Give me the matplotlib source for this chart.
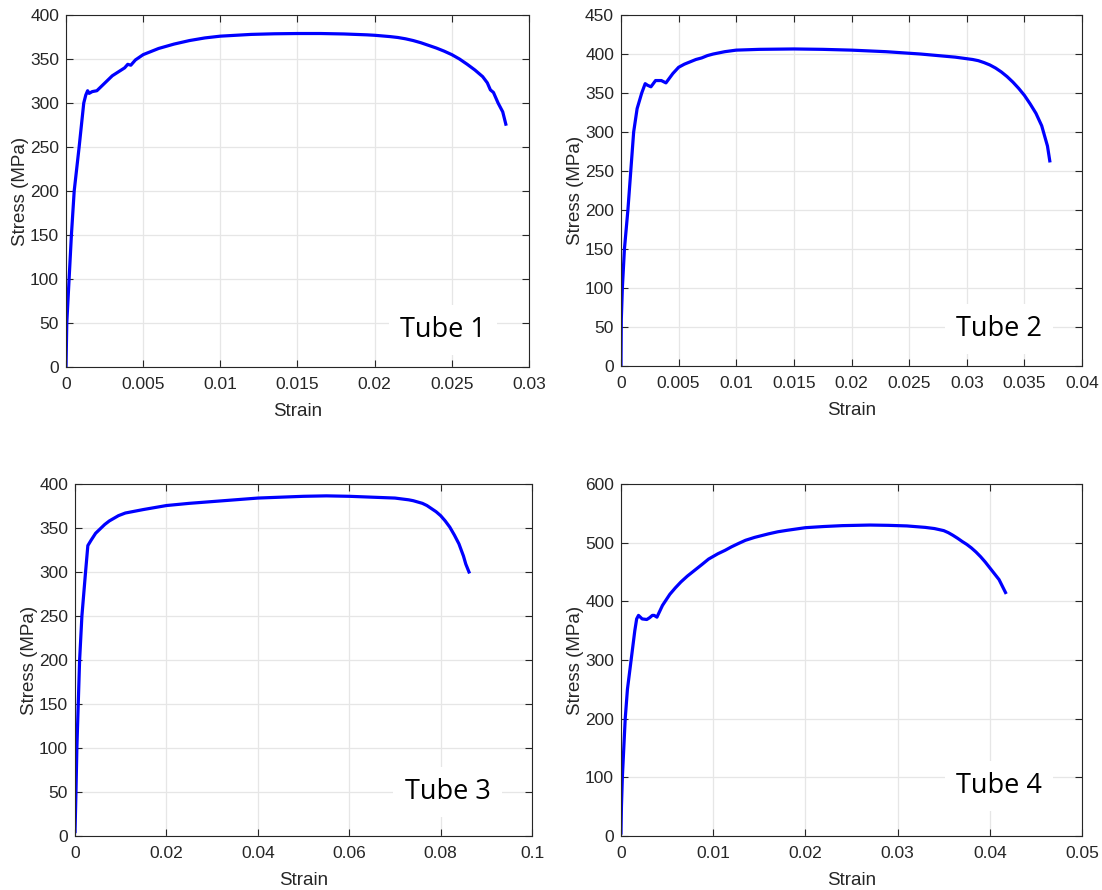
import numpy as np
import matplotlib.pyplot as plt
from matplotlib.ticker import FuncFormatter

plt.rcParams['font.family'] = ['Liberation Sans', 'DejaVu Sans']

# Tube 1 - stress/strain
strain1 = [0, 0.00005, 0.0002, 0.00035, 0.00053, 0.00085, 0.00115, 0.00128, 0.0014, 0.0015,
           0.0017, 0.002, 0.003, 0.0038, 0.004, 0.0042, 0.0045, 0.005, 0.0055, 0.006, 0.0065,
           0.007, 0.008, 0.009, 0.01, 0.011, 0.012, 0.0135, 0.015, 0.0165, 0.018, 0.0195,
           0.02, 0.021, 0.0215, 0.022, 0.0225, 0.023, 0.0235, 0.024, 0.0245, 0.025, 0.0255,
           0.026, 0.0265, 0.027, 0.0273, 0.0275, 0.0277, 0.028, 0.0283, 0.0285]
stress1 = [0, 50, 100, 150, 200, 250, 300, 309, 314, 311, 313, 314, 331, 340, 344, 343, 349,
           355, 358.5, 362, 364.5, 367, 371, 374, 376, 377, 378, 378.7, 379, 379, 378.5,
           377.5, 377, 375.5, 374.5, 373, 371, 368.5, 365.5, 362.5, 359, 355, 350, 344,
           337.5, 330, 323, 315, 312, 300, 290, 276]

# Tube 2
strain2 = [0, 0.00003, 0.00012, 0.0003, 0.0006, 0.00085, 0.0011, 0.0014, 0.0016, 0.0018,
           0.0021, 0.0023, 0.0026, 0.003, 0.0035, 0.0039, 0.0045, 0.005, 0.0055, 0.006,
           0.0065, 0.007, 0.0075, 0.008, 0.009, 0.01, 0.012, 0.015, 0.0175, 0.02, 0.023,
           0.026, 0.0275, 0.029, 0.0305, 0.031, 0.0315, 0.032, 0.0325, 0.033, 0.0335, 0.034,
           0.0345, 0.035, 0.0355, 0.036, 0.0365, 0.037, 0.0372]
stress2 = [0, 60, 100, 150, 200, 250, 300, 330, 340, 350, 362, 360, 358, 366, 366, 363, 375,
           383, 387, 390, 393, 395, 398, 400, 403, 405, 406, 406.5, 406, 405, 403, 400, 398,
           396, 393, 391.5, 389, 386, 382, 377, 371, 364, 356, 347, 336, 324, 308, 282, 263]

# Tube 3
strain3 = [0, 0.0002, 0.0004, 0.001, 0.0015, 0.0023, 0.0028, 0.0035, 0.004, 0.0045, 0.0057,
           0.0065, 0.0075, 0.0085, 0.0095, 0.011, 0.015, 0.02, 0.025, 0.03, 0.035, 0.04,
           0.045, 0.05, 0.055, 0.06, 0.065, 0.07, 0.073, 0.074, 0.075, 0.076, 0.077, 0.078,
           0.079, 0.08, 0.081, 0.082, 0.083, 0.084, 0.085, 0.0855, 0.0862]
stress3 = [5, 50, 100, 200, 250, 300, 330, 336, 340, 344, 350, 354, 358, 361, 364, 367, 371,
           375.5, 378, 380, 382, 384, 385, 386, 386.5, 386, 385, 384, 382, 381, 379.5, 378,
           375.5, 372, 368.5, 364, 358, 351, 342, 332, 318, 309, 300]

# Tube 4
strain4 = [0, 0.00005, 0.00015, 0.00046, 0.0007, 0.0011, 0.0015, 0.0017, 0.0019, 0.0021,
           0.0023, 0.0028, 0.0031, 0.0034, 0.0036, 0.0039, 0.0045, 0.0053, 0.0059, 0.0065,
           0.0072, 0.008, 0.0088, 0.0095, 0.0105, 0.0113, 0.012, 0.0128, 0.0135, 0.0145,
           0.016, 0.017, 0.018, 0.02, 0.022, 0.024, 0.027, 0.029, 0.031, 0.033, 0.034,
           0.035, 0.0355, 0.036, 0.0365, 0.037, 0.0375, 0.038, 0.0385, 0.039, 0.0395, 0.04,
           0.0405, 0.041, 0.0417]
stress4 = [5, 50, 100, 200, 250, 300, 350, 370, 376, 373, 370, 369, 372, 376, 376, 373, 393,
           412, 423, 433, 443, 453, 463, 472, 481, 487, 493, 499, 504, 509, 515, 518.5, 521,
           525.5, 527.5, 529, 530, 529.5, 528.5, 526, 524, 520.5, 517, 512.5, 507.5, 502,
           497, 491, 484, 476, 467, 457, 447, 437, 415]

panels = [
    (strain1, stress1, 0.03, 0.005, 400, 50, "Tube 1"),
    (strain2, stress2, 0.04, 0.005, 450, 50, "Tube 2"),
    (strain3, stress3, 0.1, 0.02, 400, 50, "Tube 3"),
    (strain4, stress4, 0.05, 0.01, 600, 100, "Tube 4"),
]
# axes rectangles in figure fraction
rects = [
    [0.0599, 0.5876, 0.4201, 0.3955],
    [0.5635, 0.5888, 0.4184, 0.3943],
    [0.0681, 0.0607, 0.4147, 0.3955],
    [0.5635, 0.0607, 0.4184, 0.3955],
]
# label position (axes fraction)
label_pos = [(0.815, 0.105), (0.82, 0.105), (0.815, 0.125), (0.82, 0.143)]

dark = "#262626"
fig = plt.figure(figsize=(11.02, 8.9), dpi=100)

for (x, y, xmax, xstep, ymax, ystep, name), rect, lp in zip(panels, rects, label_pos):
    ax = fig.add_axes(rect)
    ax.plot(x, y, color="#0000ff", lw=2.3, solid_joinstyle="round")
    ax.set_xlim(0, xmax)
    ax.set_ylim(0, ymax)
    ax.set_xticks(np.arange(0, xmax + xstep / 2, xstep))
    ax.set_yticks(np.arange(0, ymax + ystep / 2, ystep))
    ax.xaxis.set_major_formatter(FuncFormatter(lambda v, p: "%g" % round(v, 4)))
    ax.grid(True, color="#e6e6e6", lw=0.9)
    ax.set_axisbelow(True)
    ax.tick_params(direction="in", top=True, right=True, length=5, width=0.8,
                   labelsize=12.5, colors=dark)
    ax.tick_params(axis="x", pad=7)
    ax.tick_params(axis="y", pad=5)
    for s in ax.spines.values():
        s.set_color(dark)
        s.set_linewidth(0.8)
    ax.set_xlabel("Strain", fontsize=13.5, color=dark, labelpad=8)
    ax.set_ylabel("Stress (MPa)", fontsize=13.5, color=dark, labelpad=0.5)
    ax.text(lp[0], lp[1], name, transform=ax.transAxes, ha="center", va="center",
            fontsize=19.5, family="Open Sans", color="black",
            bbox=dict(facecolor="white", edgecolor="none", pad=8))

fig.savefig("out.png", dpi=100)
